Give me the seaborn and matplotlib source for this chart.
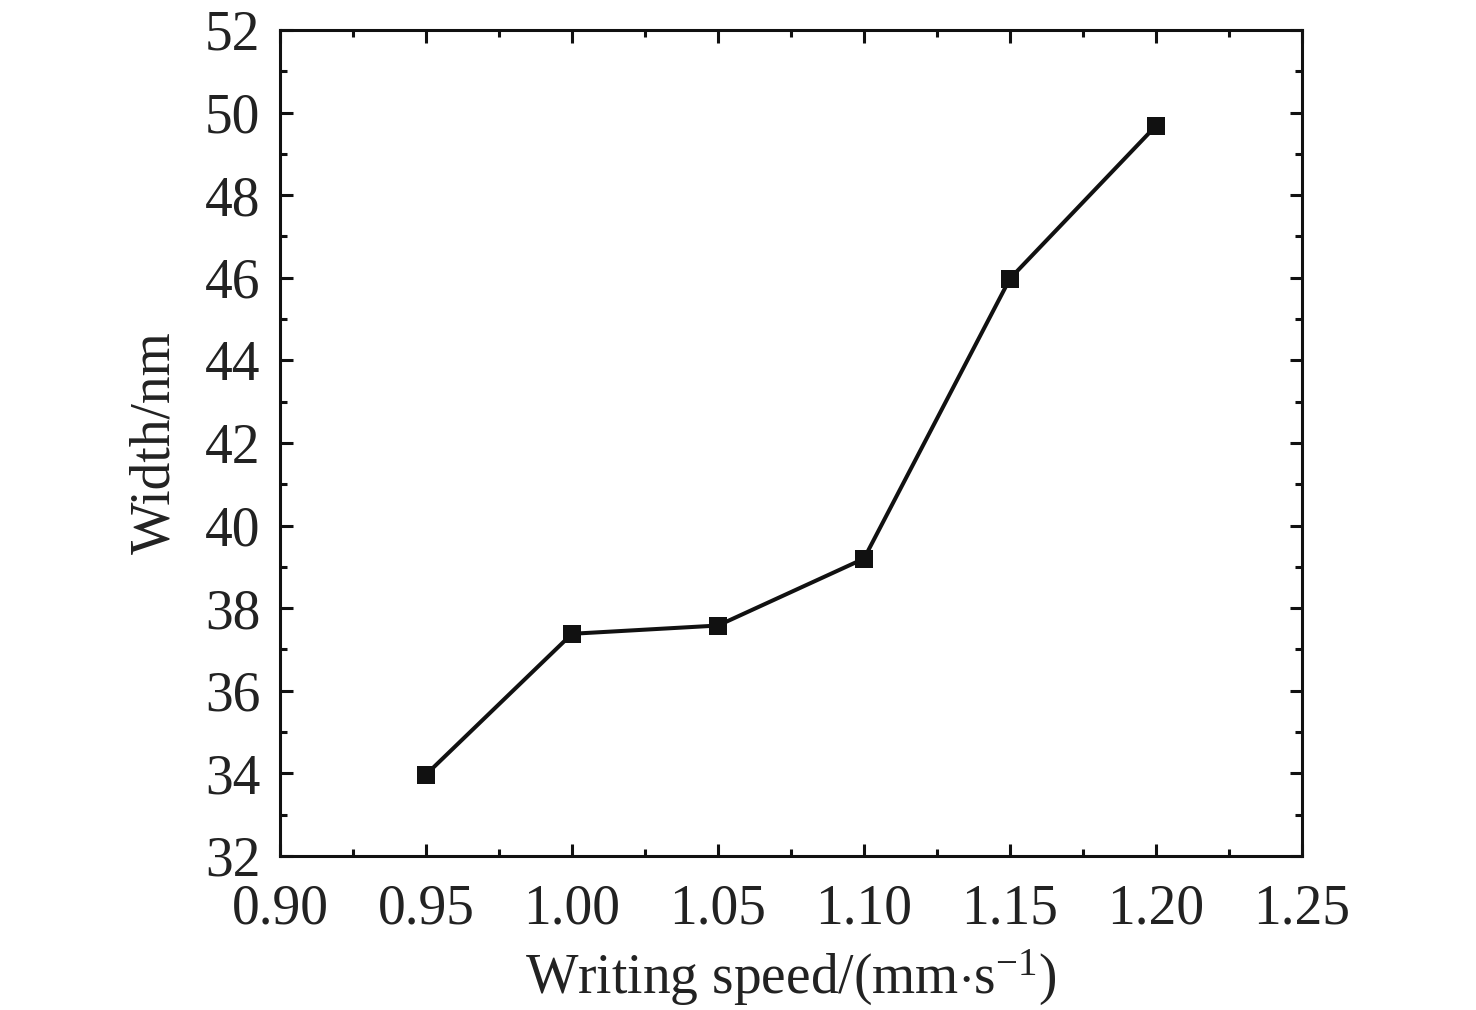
import seaborn as sns
import pandas as pd
import numpy as np
import matplotlib.pyplot as plt
from matplotlib.ticker import MultipleLocator

speed = [0.95, 1.00, 1.05, 1.10, 1.15, 1.20]
width = [33.97, 37.38, 37.58, 39.2, 45.98, 49.68]
x_ticks = [0.90, 0.95, 1.00, 1.05, 1.10, 1.15, 1.20, 1.25]
y_ticks = [32, 34, 36, 38, 40, 42, 44, 46, 48, 50, 52]

record = pd.DataFrame({'speed': speed, 'width': width})

sns.set_theme(style='ticks')
plt.rcParams['font.family'] = ['Liberation Serif', 'DejaVu Serif']
plt.rcParams['mathtext.fontset'] = 'custom'
plt.rcParams['mathtext.rm'] = 'Liberation Serif'
plt.rcParams['mathtext.it'] = 'Liberation Serif:italic'

fig = plt.figure(figsize=(14.76, 10.10), dpi=100)
ax = fig.add_axes([0.1897, 0.1525, 0.6924, 0.8178])

sns.lineplot(x='speed', y='width', data=record, ax=ax, color='#111111',
             linewidth=2.9, marker='s', markersize=13.5, markeredgewidth=0)

ax.set_xlim(0.90, 1.25)
ax.set_ylim(32, 52)
ax.set_xticks(x_ticks)
ax.set_yticks(y_ticks)
ax.set_xticklabels(['%.2f' % v for v in x_ticks])
ax.set_yticklabels([str(v) for v in y_ticks])
ax.xaxis.set_minor_locator(MultipleLocator(0.025))
ax.yaxis.set_minor_locator(MultipleLocator(1))

for s in ax.spines.values():
    s.set_visible(True)
    s.set_linewidth(2.2)
    s.set_color('#111111')

ax.tick_params(which='both', direction='in', top=True, right=True,
               width=2.2, color='#111111', labelsize=40, labelcolor='#222222')
ax.tick_params(which='major', length=9)
ax.tick_params(which='minor', length=5)
ax.tick_params(axis='x', which='both', pad=20, labeltop=False)
ax.tick_params(axis='y', which='both', pad=14, labelright=False)

ax.set_xlabel(r'Writing speed/(mm$\cdot$s$^{-1}$)', fontsize=40, color='#222222', labelpad=9)
ax.set_ylabel('Width/nm', fontsize=40, color='#222222', labelpad=17)

fig.savefig('out.png', dpi=100)
